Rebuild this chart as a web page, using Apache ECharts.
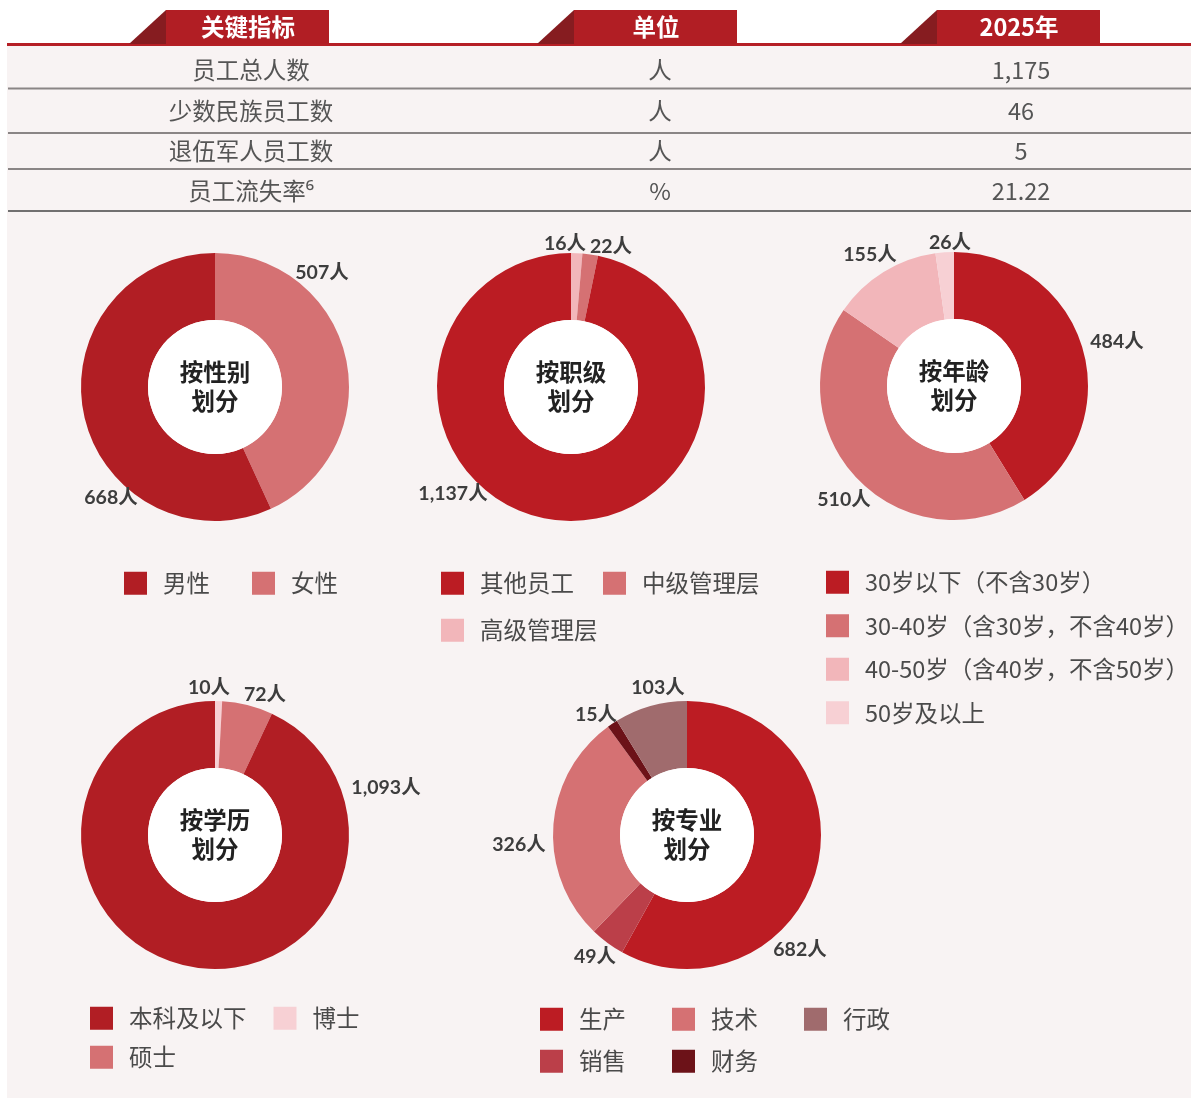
<!DOCTYPE html>
<html>
<head>
<meta charset="utf-8">
<script src="https://cdn.jsdelivr.net/npm/echarts@6/dist/echarts.min.js"></script>
<style>
  html, body { margin: 0; padding: 0; background: #fff; }
  #container { width: 1191px; height: 1098px; }
</style>
</head>
<body>
<div id="container"></div>
<script>
"use strict";

// 表格数据
const tableHeaders = ['关键指标', '单位', '2025年'];
const tableIndicators = ['员工总人数', '少数民族员工数', '退伍军人员工数', '员工流失率⁶'];
const tableUnits = ['人', '人', '人', '%'];
const tableValues2025 = ['1,175', '46', '5', '21.22'];

// 按性别
const genderNames = ['女性', '男性'];
const genderValues = [507, 668];
const genderLegend = ['男性', '女性'];

// 按职级
const levelNames = ['高级管理层', '中级管理层', '其他员工'];
const levelValues = [16, 22, 1137];
const levelLegendRow1 = ['其他员工', '中级管理层'];
const levelLegendRow2 = ['高级管理层'];

// 按年龄
const ageNames = ['30岁以下（不含30岁）', '30-40岁（含30岁，不含40岁）', '40-50岁（含40岁，不含50岁）', '50岁及以上'];
const ageValues = [484, 510, 155, 26];

// 按学历
const eduNames = ['博士', '硕士', '本科及以下'];
const eduValues = [10, 72, 1093];
const eduLegendRow1 = ['本科及以下', '博士'];
const eduLegendRow2 = ['硕士'];

// 按专业
const majorNames = ['生产', '销售', '技术', '财务', '行政'];
const majorValues = [682, 49, 326, 15, 103];
const majorLegendRow1 = ['生产', '技术', '行政'];
const majorLegendRow2 = ['销售', '财务'];

const CJK = "'Noto Sans CJK SC', 'Noto Sans', sans-serif";
const NUM = "Lato, 'Noto Sans CJK SC', sans-serif";

let myChart = echarts.init(document.getElementById('container'));

// 环形图配置（颜色、位置、标签偏移）
const pies = [
  { title: '按性别\n划分', names: genderNames, values: genderValues, center: [215, 387],
    colors: ['#d57173', '#b11e24'], offsets: [[107, -114], [-104, 111]] },
  { title: '按职级\n划分', names: levelNames, values: levelValues, center: [571, 387],
    colors: ['#f2b6ba', '#d57173', '#bb1c23'], offsets: [[-6, -143], [40, -140], [-118, 107]] },
  { title: '按年龄\n划分', names: ageNames, values: ageValues, center: [954, 386],
    colors: ['#bb1c23', '#d57173', '#f2b6ba', '#f7d0d4'], offsets: [[163, -44], [-110, 114], [-84, -131], [-4, -143]] },
  { title: '按学历\n划分', names: eduNames, values: eduValues, center: [215, 835],
    colors: ['#f7d0d4', '#d57173', '#b11e24'], offsets: [[-6, -147], [50, -140], [171, -47]] },
  { title: '按专业\n划分', names: majorNames, values: majorValues, center: [687, 835],
    colors: ['#bc1c23', '#bb3f49', '#d57173', '#6c1218', '#a06b6d'], offsets: [[113, 115], [-92, 122], [-168, 10], [-91, -120], [-29, -147]] },
];

let series = [];
pies.forEach(function (p) {
  series.push({
    type: 'pie',
    center: p.center,
    radius: [67, 134],
    startAngle: 90,
    clockwise: true,
    avoidLabelOverlap: false,
    emphasis: { disabled: true },
    data: p.names.map(function (n, i) {
      return { name: n, value: p.values[i], itemStyle: { color: p.colors[i] } };
    }),
    label: {
      show: true,
      position: 'outside',
      formatter: function (params) {
        return echarts.format.addCommas(params.value) + '人';
      },
      fontFamily: NUM,
      fontWeight: 'bold',
      fontSize: 19.5,
      color: '#3d3d3d',
    },
    labelLine: { show: false },
    labelLayout: function (params) {
      let off = p.offsets[params.dataIndex];
      return {
        x: p.center[0] + off[0],
        y: p.center[1] + off[1],
        align: 'center',
        verticalAlign: 'middle',
      };
    },
  });
  // 中心白色圆与标题
  series.push({
    type: 'pie',
    center: p.center,
    radius: [0, 67],
    silent: true,
    data: [{ name: p.title, value: 1, itemStyle: { color: '#ffffff' } }],
    label: {
      show: true,
      position: 'center',
      fontFamily: CJK,
      fontWeight: 'bold',
      fontSize: 23.5,
      lineHeight: 29,
      color: '#222',
    },
    labelLine: { show: false },
  });
});

const legendBase = {
  icon: 'rect',
  itemWidth: 23,
  itemHeight: 23,
  selectedMode: false,
  textStyle: {
    fontFamily: CJK,
    fontSize: 23.5,
    color: '#4a4a4a',
    padding: [0, 0, 0, 11],
  },
};

function makeLegend(data, left, top, gap, extra) {
  return Object.assign({}, legendBase, { data: data, left: left, top: top, itemGap: gap }, extra || {});
}

let legends = [
  makeLegend(genderLegend, 119, 566.5, 42),
  makeLegend(levelLegendRow1, 436, 566.5, 29),
  makeLegend(levelLegendRow2, 436, 613.5, 29),
  makeLegend(ageNames, 821, 565.5, 20, { orient: 'vertical' }),
  makeLegend(eduLegendRow1, 85, 1001.5, 27),
  makeLegend(eduLegendRow2, 85, 1040.5, 27),
  makeLegend(majorLegendRow1, 535, 1002.5, 46),
  makeLegend(majorLegendRow2, 535, 1044.5, 46),
];

// 表格图形
let graphics = [
  { type: 'rect', z: -10, shape: { x: 7, y: 46, width: 1184, height: 1052 }, style: { fill: '#f8f3f3' } },
  { type: 'rect', shape: { x: 7, y: 43, width: 1184, height: 3 }, style: { fill: '#b51f25' } },
];
const headerX = [166, 574, 937];
tableHeaders.forEach(function (h, i) {
  let x = headerX[i];
  graphics.push({ type: 'polygon', shape: { points: [[x - 37, 44], [x, 10], [x, 44]] }, style: { fill: '#861c20' } });
  graphics.push({ type: 'rect', shape: { x: x, y: 10, width: 163, height: 34 }, style: { fill: '#b11e24' } });
  graphics.push({
    type: 'text', x: x + 82, y: 27,
    style: { text: h, fill: '#fff', font: 'bold 23.5px ' + CJK, align: 'center', verticalAlign: 'middle' },
  });
});
const rowY = [70, 111, 151, 191];
const lineY = [88.5, 133, 169, 211];
const colX = [251, 660, 1021];
tableIndicators.forEach(function (t, i) {
  [t, tableUnits[i], tableValues2025[i]].forEach(function (s, j) {
    graphics.push({
      type: 'text', x: colX[j], y: rowY[i],
      style: { text: s, fill: '#555', font: '23.5px ' + CJK, align: 'center', verticalAlign: 'middle' },
    });
  });
  graphics.push({
    type: 'line',
    shape: { x1: 8, y1: lineY[i], x2: 1191, y2: lineY[i] },
    style: { stroke: i === 3 ? '#444' : '#8a8585', lineWidth: i === 3 ? 1.5 : 2 },
  });
});

let option = {
  backgroundColor: '#ffffff',
  animation: false,
  graphic: { elements: graphics },
  legend: legends,
  series: series,
};

myChart.setOption(option);
</script>
</body>
</html>
